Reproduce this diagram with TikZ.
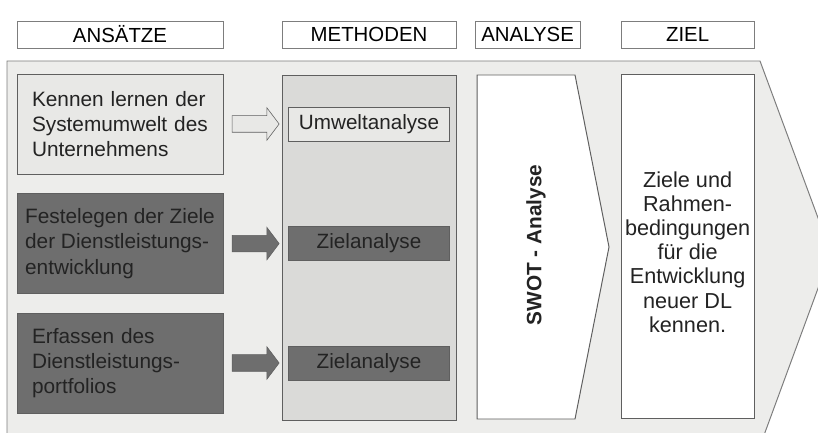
\documentclass[tikz,border=0pt]{standalone}
\usepackage{fontspec}
\setmainfont{Liberation Sans}
\usepackage{xcolor}
\usetikzlibrary{positioning, shapes, calc}

\definecolor{bgGray}{RGB}{237,237,235}
\definecolor{colGray}{RGB}{218,218,216}
\definecolor{lightBox}{RGB}{232,232,230}
\definecolor{darkBox}{RGB}{110,110,110}
\definecolor{textDark}{RGB}{35,35,35}
\definecolor{edgeGray}{RGB}{95,95,95}
\definecolor{frameGray}{RGB}{125,125,125}

\begin{document}
\begin{tikzpicture}[
        header/.style={rectangle, draw=frameGray, fill=white, minimum height=0.675cm, inner sep=0pt, font=\fontsize{14.5}{17}\selectfont},
        ansatz/.style={rectangle, draw=edgeGray, minimum width=5.15cm, minimum height=2.5cm, align=left, inner xsep=0.375cm, text=textDark, font=\fontsize{14.8}{17.8}\selectfont},
        methode/.style={rectangle, draw=edgeGray, minimum width=4.025cm, minimum height=0.85cm, inner sep=0pt, text=textDark, font=\fontsize{14.7}{17}\selectfont},
        blockarr/.style={single arrow, draw=edgeGray, minimum height=1.175cm, single arrow head extend=0.2cm, single arrow tip angle=106, inner sep=0pt}
    ]

    \useasboundingbox (0,0) rectangle (20.45,10.8);
    \clip (0,0) rectangle (20.45,10.8);

    % Header row
    \foreach \nm/\x/\w/\txt in {hAns/3.0/5.15/ANSÄTZE, hMet/9.225/4.35/METHODEN, hAna/13.19/2.625/ANALYSE, hZiel/17.19/3.325/ZIEL} {
        \node[header, minimum width=\w cm] (\nm) at (\x, 9.94) {\txt};
    }

    % Big background arrow (cut off at the page edge)
    \draw[draw=frameGray, fill=bgGray, line width=0.7pt]
        (0.175,9.275) -- (19.0,9.275) -- (20.775,4.475) -- (19.0,-0.35) -- (0.175,-0.35) -- cycle;

    % --------------------------------------------------
    % Ansaetze
    \node[ansatz, fill=lightBox, text width=4.4cm] (k1) at (3.0, 7.7)
        {Kennen lernen der\\Systemumwelt des\\Unternehmens};
    \node[ansatz, fill=darkBox, inner xsep=0pt] (k2) at (3.0, 4.71)
        {Festelegen der Ziele\\der Dienstleistungs-\\entwicklung};
    \node[ansatz, fill=darkBox, text width=4.4cm] (k3) at (3.0, 1.725)
        {Erfassen des\\Dienstleistungs-\\portfolios};

    % --------------------------------------------------
    % Methoden
    \node[draw=edgeGray, fill=colGray, minimum width=4.35cm, minimum height=8.625cm, inner sep=0pt] (col) at (9.225, 4.6125) {};
    \node[methode, fill=lightBox] (m1) at (col.center |- k1) {Umweltanalyse};
    \node[methode, fill=darkBox]  (m2) at (col.center |- k2) {Zielanalyse};
    \node[methode, fill=darkBox]  (m3) at (col.center |- k3) {Zielanalyse};

    % Block arrows between the columns
    \node[blockarr, fill=lightBox] (a1) at ($(k1.east)!0.5!(k1.east -| col.west)$) {\rule{0pt}{0.4cm}};
    \node[blockarr, fill=darkBox]  (a2) at ($(k2.east)!0.5!(k2.east -| col.west)$) {\rule{0pt}{0.4cm}};
    \node[blockarr, fill=darkBox]  (a3) at ($(k3.east)!0.5!(k3.east -| col.west)$) {\rule{0pt}{0.4cm}};

    % --------------------------------------------------
    % Analyse (chevron)
    \draw[draw=edgeGray, fill=white, line width=0.7pt]
        (11.925,8.925) -- (14.375,8.925) -- (15.225,4.625) -- (14.375,0.325) -- (11.925,0.325) -- cycle;
    \node[rotate=90, text=textDark, font=\fontsize{14.8}{17}\selectfont\bfseries] (swot) at (13.4, 4.675) {SWOT - Analyse};

    % --------------------------------------------------
    % Ziel
    \node[draw=edgeGray, fill=white, minimum width=3.325cm, minimum height=8.6cm, inner sep=0pt] (ziel) at (17.19, 4.65) {};
    \node[align=center, text=textDark, font=\fontsize{15.4}{17.2}\selectfont] (zieltext) at (17.19, 4.5)
        {Ziele und\\Rahmen-\\bedingungen\\für die\\Entwicklung\\neuer DL\\kennen.};

\end{tikzpicture}
\end{document}
